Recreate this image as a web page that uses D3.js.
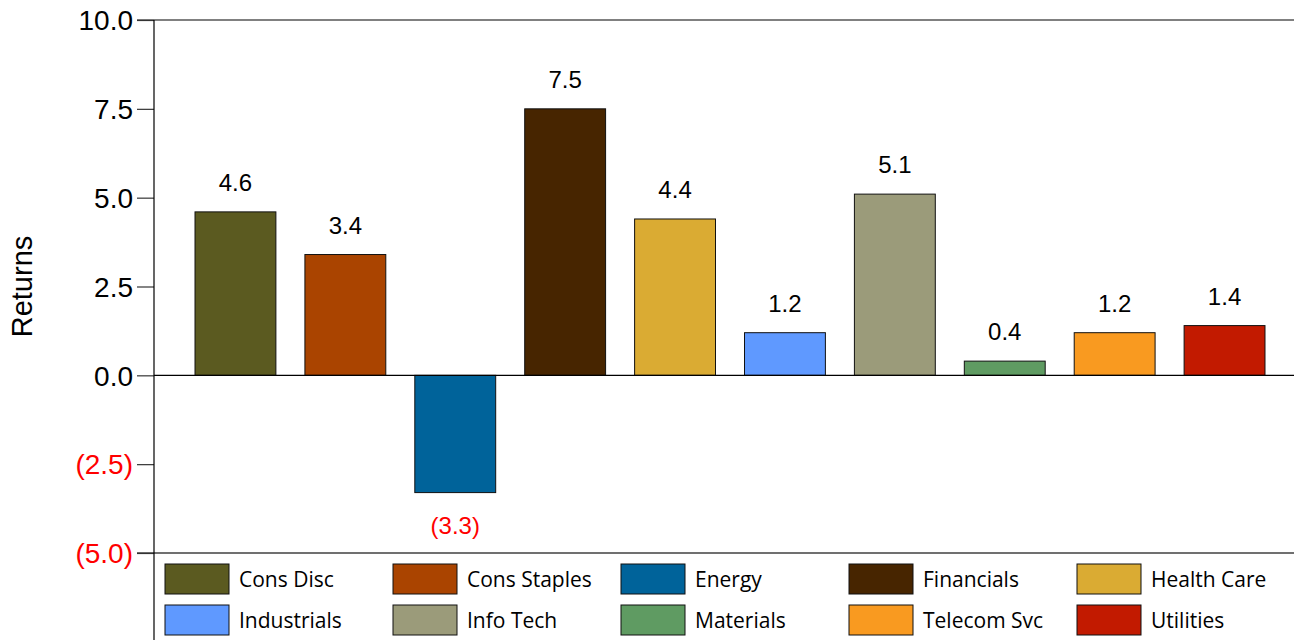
<!DOCTYPE html>
<html>
<head>
<meta charset="utf-8">
<script src="https://cdn.jsdelivr.net/npm/d3@7"></script>
<style>
  body { margin: 0; background: #fff; }
  svg { display: block; }
</style>
</head>
<body>
<div id="chart"></div>
<script>
// sector returns bar chart
const sectors = ["Cons Disc", "Cons Staples", "Energy", "Financials", "Health Care",
                 "Industrials", "Info Tech", "Materials", "Telecom Svc", "Utilities"];
const returns = [4.6, 3.4, -3.3, 7.5, 4.4, 1.2, 5.1, 0.4, 1.2, 1.4];
const colors = ["#5b5a20", "#aa4400", "#00639a", "#472500", "#daab33",
                "#5f99ff", "#9b9b7a", "#5f9b62", "#f99a20", "#c21a00"];
const yTicks = [-5, -2.5, 0, 2.5, 5, 7.5, 10];

const W = 1294, H = 640;
const data = sectors.map((s, i) => ({ name: s, value: returns[i], color: colors[i] }));

const svg = d3.select("#chart").append("svg")
  .attr("width", W)
  .attr("height", H);

const y = d3.scaleLinear().domain([-5, 10]).range([553, 20]);
const x = d3.scaleBand()
  .domain(sectors)
  .range([180.5, 1279.5])
  .paddingInner(0.264)
  .paddingOuter(0.132);

const fmt = v => v < 0 ? "(" + d3.format(".1f")(-v) + ")" : d3.format(".1f")(v);

// top line and -5 line
svg.append("line")
  .attr("x1", 137).attr("x2", W)
  .attr("y1", y(10)).attr("y2", y(10))
  .attr("stroke", "#808080").attr("stroke-width", 2);
svg.append("line")
  .attr("x1", 137).attr("x2", W)
  .attr("y1", y(-5)).attr("y2", y(-5))
  .attr("stroke", "#404040").attr("stroke-width", 1.5);

// y axis
const yAxis = svg.append("g")
  .attr("transform", "translate(154,0)")
  .call(d3.axisLeft(y).tickValues(yTicks).tickSize(17).tickFormat(fmt));
yAxis.select(".domain").remove();
yAxis.selectAll(".tick line").attr("stroke", "#333").attr("stroke-width", 1.2);
yAxis.selectAll(".tick text")
  .attr("x", -21)
  .attr("dy", "0.35em")
  .style("font-family", "'Liberation Sans', Arial, sans-serif")
  .style("font-size", "28px")
  .attr("fill", d => d < 0 ? "#ff0000" : "#000");

svg.append("line")
  .attr("x1", 154).attr("x2", 154)
  .attr("y1", y(10)).attr("y2", H)
  .attr("stroke", "#000").attr("stroke-width", 1.2);

// y title
svg.append("text")
  .attr("transform", `translate(32,${y(2.5)}) rotate(-90)`)
  .attr("text-anchor", "middle")
  .style("font-family", "'Liberation Sans', Arial, sans-serif")
  .style("font-size", "29px")
  .text("Returns");

// bars
svg.selectAll("rect.bar")
  .data(data)
  .enter().append("rect")
  .attr("class", "bar")
  .attr("x", d => x(d.name))
  .attr("width", x.bandwidth())
  .attr("y", d => y(Math.max(0, d.value)))
  .attr("height", d => Math.abs(y(d.value) - y(0)))
  .attr("fill", d => d.color)
  .attr("stroke", "#111")
  .attr("stroke-width", 1);

// zero line
svg.append("line")
  .attr("x1", 154).attr("x2", W)
  .attr("y1", y(0)).attr("y2", y(0))
  .attr("stroke", "#000").attr("stroke-width", 1.2);

// value labels
svg.selectAll("text.val")
  .data(data)
  .enter().append("text")
  .attr("class", "val")
  .attr("x", d => x(d.name) + x.bandwidth() / 2)
  .attr("y", d => d.value >= 0 ? y(d.value) - 21 : y(d.value) + 41)
  .attr("text-anchor", "middle")
  .style("font-family", "'Liberation Sans', Arial, sans-serif")
  .style("font-size", "24px")
  .attr("fill", d => d.value < 0 ? "#ff0000" : "#000")
  .text(d => fmt(d.value));

// legend
const legend = svg.append("g");
const item = legend.selectAll("g")
  .data(data)
  .enter().append("g")
  .attr("transform", (d, i) => `translate(${165 + (i % 5) * 228},${564 + Math.floor(i / 5) * 41})`);
item.append("rect")
  .attr("width", 64).attr("height", 30)
  .attr("fill", d => d.color)
  .attr("stroke", "#111").attr("stroke-width", 1);
item.append("text")
  .attr("x", 74).attr("y", 16)
  .attr("dy", "0.35em")
  .style("font-family", "'Open Sans', sans-serif")
  .style("font-size", "21px")
  .text(d => d.name);
</script>
</body>
</html>
